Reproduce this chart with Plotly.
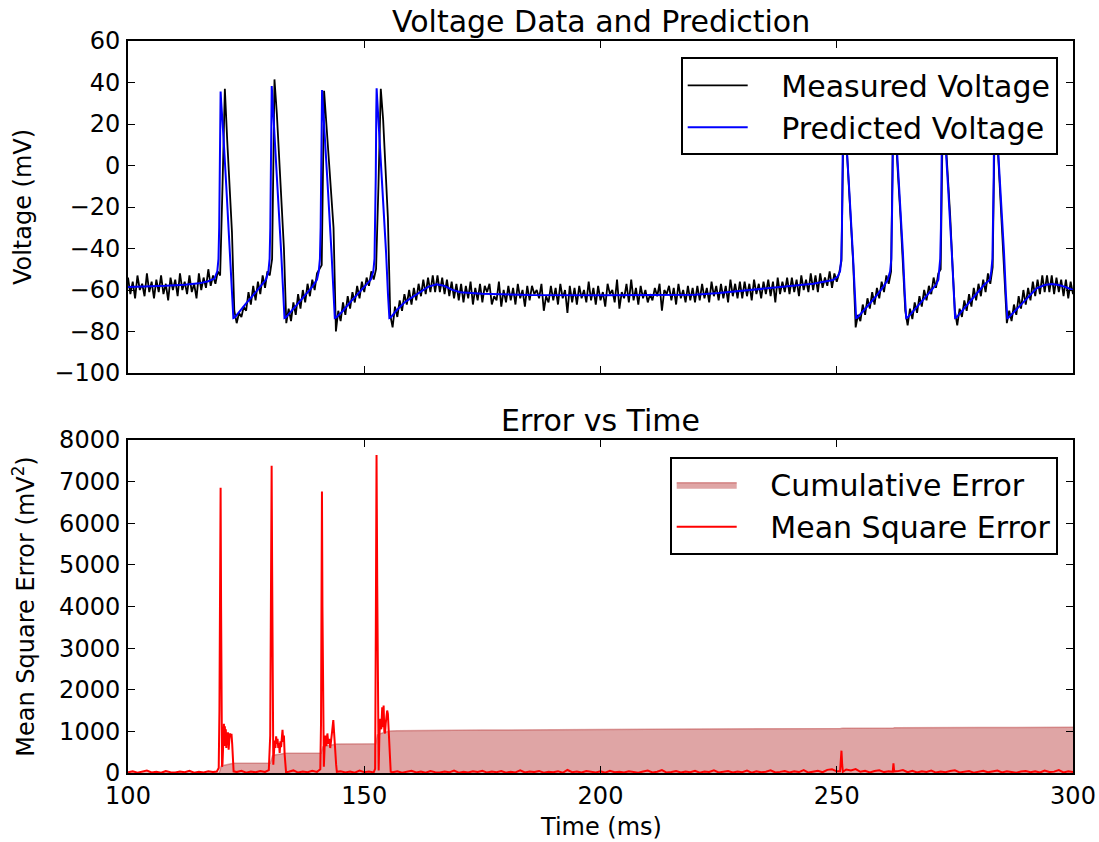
import numpy as np
import plotly.graph_objects as go

# ---------------- data ----------------
# measured voltage sampled every 0.5 ms from 100 ms to 300 ms
meas_start = 100.0
meas_step = 0.5
meas_v = [
    -54, -62, -56, -64, -53, -60, -57, -63, -52, -61,
    -56, -64, -55, -61, -53, -62, -57, -65, -54, -60,
    -55, -63, -52, -60, -56, -62, -53, -61, -57, -64,
    -52, -60, -54, -59, -50, -58, -53, -57, -51, -53,
    -10, 37, 12, -8, -32, -70, -76, -71, -73, -68,
    -70, -61, -67, -58, -65, -56, -62, -53, -59, -51,
    -53, -45, 41.5, 25, 5, -18, -40, -76, -69, -75,
    -66, -72, -62, -69, -60, -66, -57, -63, -55, -60,
    -52, -50, -48, 36, 20, 2, -15, -30, -80, -70,
    -75, -66, -72, -63, -69, -61, -66, -58, -64, -56,
    -61, -54, -58, -51, -55, -50, -10, 37, 22, -2,
    -25, -72, -78, -68, -73, -65, -70, -62, -67, -60,
    -67, -59, -65, -57, -63, -55, -62, -54, -61, -53,
    -61, -53, -61, -54, -62, -55, -63, -56, -64, -57,
    -65, -57, -66, -58, -64, -56, -67, -59, -65, -57,
    -66, -58, -61, -57, -67, -63, -65, -56, -68, -60,
    -66, -58, -65, -59, -67, -57, -64, -60, -68, -58,
    -65, -58, -62, -60, -64, -57, -70, -63, -66, -58,
    -65, -59, -67, -57, -64, -60, -71, -58, -66, -59,
    -67, -58, -64, -60, -66, -56, -65, -59, -67, -58,
    -65, -61, -68, -57, -62, -60, -66, -55, -69, -61,
    -64, -57, -66, -55, -65, -59, -67, -58, -64, -60,
    -66, -62, -65, -59, -63, -57, -70, -60, -62, -58,
    -65, -59, -67, -57, -64, -60, -66, -58, -65, -59,
    -66, -58, -65, -57, -64, -59, -66, -56, -63, -58,
    -65, -57, -64, -58, -66, -55, -63, -57, -64, -56,
    -64, -56, -63, -57, -65, -55, -62, -57, -64, -56,
    -62, -55, -63, -56, -66, -54, -62, -56, -61, -54,
    -62, -54, -61, -55, -63, -53, -60, -55, -61, -52,
    -60, -53, -61, -52, -59, -54, -58, -51, -59, -52,
    -56, -52, -46, 33, 12, -6, -25, -48, -78, -72,
    -75, -67, -72, -64, -69, -61, -67, -59, -64, -56,
    -61, -53, -57, -51, 34, 12, -6, -25, -48, -70,
    -77, -69, -74, -66, -71, -63, -68, -60, -65, -58,
    -62, -54, -59, -52, -50, 35, 14, -4, -24, -48,
    -70, -77, -69, -73, -65, -70, -62, -68, -59, -65,
    -57, -63, -55, -61, -52, -57, -49, 34, 12, -6,
    -26, -52, -76, -70, -75, -67, -72, -63, -69, -60,
    -67, -59, -65, -56, -63, -55, -62, -53, -61, -53,
    -61, -53, -62, -54, -61, -55, -63, -55, -64, -56,
    -62,
]
meas_t = meas_start + meas_step * np.arange(len(meas_v))

# predicted voltage (model output), read at key times
pred_t = [
    100, 104, 108, 112, 115, 117, 118.3,
    118.9, 119.15, 119.3, 119.42, 119.52, 119.6, 119.72, 119.9, 120.2, 120.8, 121.6, 122.0, 122.3, 122.6,
    123.5, 125.0, 126.5, 128.0, 129.2,
    129.72, 129.97, 130.12, 130.24, 130.34, 130.42, 130.54, 130.72, 131.02, 131.62, 132.42, 132.82, 133.12, 133.42,
    134.5, 136.0, 137.5, 139.0, 140.0,
    140.37, 140.62, 140.77, 140.89, 140.99, 141.07, 141.19, 141.37, 141.67, 142.27, 143.07, 143.47, 143.77, 144.07,
    145.5, 147.0, 148.5, 150.0, 151.4,
    151.92, 152.17, 152.32, 152.44, 152.54, 152.62, 152.74, 152.92, 153.22, 153.82, 154.62, 155.02, 155.32, 155.62,
    156.9, 158.5, 160.4, 162, 163.5, 165.3, 167, 168.5, 170.3, 175, 185, 200, 215, 220, 225, 231, 238, 245, 249.2, 250.2,
    250.7, 250.95, 251.1, 251.22, 251.32, 251.4, 251.52, 251.7, 252.0, 252.6, 253.4, 253.8, 254.1, 254.4,
    255.5, 257, 258.5, 260, 260.8,
    261.3, 261.55, 261.7, 261.82, 261.92, 262.0, 262.12, 262.3, 262.6, 263.2, 264.0, 264.4, 264.7, 265.0,
    266.5, 268, 269.5, 271, 271.5,
    271.65, 271.9, 272.05, 272.17, 272.27, 272.35, 272.47, 272.65, 272.95, 273.55, 274.35, 274.75, 275.05, 275.35,
    276.7, 278.2, 279.7, 281.2, 282.4,
    282.7, 282.95, 283.1, 283.22, 283.32, 283.4, 283.52, 283.7, 284.0, 284.6, 285.4, 285.8, 286.1, 286.4,
    287.5, 289.2, 290.8, 292.3, 294, 295.5, 297, 298.5, 300,
]
pred_v = [
    -58.5, -58.3, -58.0, -57.5, -56.8, -55.8, -54.5,
    -51, -45, -30, -5, 25, 35.6, 30.6, 25, 14, -10, -42, -62, -73.5, -73.2,
    -70.5, -66.5, -62.5, -58.5, -55,
    -51, -45, -30, -5, 25, 38.3, 33.3, 25, 14, -10, -42, -62, -73.5, -73.2,
    -70.5, -66.5, -62.5, -58.5, -55,
    -51, -45, -30, -5, 25, 36.4, 31.4, 25, 14, -10, -42, -62, -73.5, -73.2,
    -70, -66, -62, -58.5, -55,
    -51, -45, -30, -5, 25, 37.2, 32.2, 25, 14, -10, -42, -62, -73.5, -73.2,
    -69.6, -66, -63, -60.5, -58.5, -57.3, -58, -59.8, -61.1, -61.8, -62.4, -62.5, -62.5, -62.3, -61.5, -60.2, -58.7, -57, -55.2, -53.5,
    -51, -45, -30, -5, 25, 36, 31, 25, 14, -10, -42, -62, -73.5, -73.2,
    -70.5, -66.5, -62.5, -58, -55,
    -51, -45, -30, -5, 25, 36, 31, 25, 14, -10, -42, -62, -73.5, -73.2,
    -69.5, -65.5, -61.5, -57.5, -55,
    -51, -45, -30, -5, 25, 36, 31, 25, 14, -10, -42, -62, -73.5, -73.2,
    -69.5, -65.5, -61.5, -57.5, -55,
    -51, -45, -30, -5, 25, 36, 31, 25, 14, -10, -42, -62, -73.5, -73.2,
    -70.5, -66.4, -62.5, -59.2, -57.6, -57.1, -57.6, -58.6, -60,
]

# mean square error
mse_t = [
    100, 101, 102, 103, 104, 105, 106, 107, 108, 109, 110, 111, 112, 113, 114, 115, 116, 117, 118,
    118.8, 119.2, 119.35, 119.5, 119.6, 119.7, 119.8, 119.9, 120.0, 120.15, 120.3, 120.4, 120.5, 120.6,
    120.7, 120.8, 120.9, 121.0, 121.15, 121.3, 121.45, 121.6, 121.75, 121.9, 122.05, 122.2, 122.35,
    123, 124, 125, 126, 127, 128, 129, 129.8,
    130.1, 130.25, 130.4, 130.5, 130.6, 130.75, 130.9, 131.05, 131.2, 131.35, 131.5, 131.65, 131.8,
    131.95, 132.1, 132.25, 132.4, 132.55, 132.7, 132.85, 133.0, 133.15, 133.3, 133.45,
    134, 135, 136, 137, 138, 139, 140, 140.7,
    140.85, 140.95, 141.05, 141.15, 141.3, 141.45, 141.6, 141.8, 142.0, 142.2, 142.4, 142.6, 142.8,
    143.0, 143.2, 143.45, 143.65, 143.85, 144.05, 144.2,
    145, 146, 147, 148, 149, 150, 151, 152, 152.3,
    152.45, 152.6, 152.75, 152.9, 153.05, 153.2, 153.4, 153.6, 153.8, 153.95, 154.1, 154.25, 154.4,
    154.55, 154.7, 154.85, 155.0, 155.2, 155.4, 155.6,
    156, 157, 158, 159, 160, 161, 162, 163, 164, 165,
    166, 167, 168, 169, 170, 171, 172, 173, 174, 175,
    176, 177, 178, 179, 180, 181, 182, 183, 184, 185,
    186, 187, 188, 189, 190, 191, 192, 193, 194, 195,
    196, 197, 198, 199, 200, 201, 202, 203, 204, 205,
    206, 207, 208, 209, 210, 211, 212, 213, 214, 215,
    216, 217, 218, 219, 220, 221, 222, 223, 224, 225,
    226, 227, 228, 229, 230, 231, 232, 233, 234, 235,
    236, 237, 238, 239, 240, 241, 242, 243, 244, 245,
    246, 247, 248, 249, 250,
    250.7, 250.85, 251.0, 251.15, 251.3,
    252, 253, 254, 255, 256, 257, 258, 259, 260, 261,
    261.85, 262.0, 262.15,
    263, 264, 265, 266, 267, 268, 269, 270, 271, 272,
    273, 274, 275, 276, 277, 278, 279, 280, 281, 282,
    283, 284, 285, 286, 287, 288, 289, 290, 291, 292,
    293, 294, 295, 296, 297, 298, 299, 300,
]
mse_v = [
    15, 42, 8, 26, 58, 12, 31, 5, 47, 19, 10, 36, 17, 52, 7, 29, 13, 41, 22,
    35, 120, 1500, 5200, 6850, 4000, 900, 150, 220, 950, 1180, 650, 1120, 700,
    1050, 600, 900, 750, 980, 560, 800, 950, 880, 940, 700, 250, 40,
    22, 55, 9, 34, 16, 47, 24, 70,
    900, 4500, 7380, 5000, 1500, 200, 500, 780, 600, 880, 700, 820, 600,
    720, 480, 760, 620, 900, 1040, 750, 900, 450, 100, 20,
    31, 62, 11, 38, 19, 51, 27, 90,
    1200, 4500, 6760, 4000, 800, 150, 600, 900, 650, 950, 700, 820, 600,
    880, 1000, 1270, 800, 500, 200, 30,
    44, 13, 36, 8, 57, 21, 33, 15, 100,
    3500, 7640, 4500, 1000, 60, 900, 1300, 1050, 1580, 1100, 1620, 1000, 950,
    1200, 1350, 1500, 1420, 900, 300, 30,
    18, 40, 9, 27, 52, 14, 33, 6, 45, 21,
    11, 38, 16, 60, 8, 29, 13, 42, 24, 55,
    10, 35, 19, 48, 7, 31, 15, 66, 12, 37,
    22, 50, 9, 30, 17, 44, 6, 72, 20, 34,
    11, 47, 25, 14, 39, 8, 53, 18, 28, 12,
    43, 21, 7, 36, 58, 15, 30, 70, 10, 26,
    45, 13, 33, 19, 51, 9, 38, 23, 62, 14,
    29, 48, 11, 35, 20, 57, 8, 41, 17, 31,
    64, 12, 27, 46, 15, 39, 22, 68, 10, 34,
    52, 18, 75, 90, 40,
    40, 300, 536, 200, 30,
    85, 60, 95, 30, 55, 14, 48, 66, 22, 39,
    30, 233, 40,
    45, 70, 18, 52, 12, 41, 27, 58, 10, 35,
    20, 47, 63, 15, 32, 49, 9, 28, 54, 17,
    38, 61, 13, 44, 25, 8, 36, 50, 19, 42,
    11, 57, 23, 33, 69, 14, 40, 26,
]

# cumulative error
cum_t = [100, 119.2, 119.4, 119.55, 119.7, 119.9, 120.5, 121.3, 122.3,
         130.1, 130.3, 130.45, 130.6, 131.0, 132.0, 133.4,
         140.85, 141.0, 141.1, 141.25, 141.6, 142.8, 144.2,
         152.4, 152.55, 152.65, 152.8, 153.3, 154.3, 155.6,
         157, 175, 195, 220, 250.8, 251.3, 262.0, 262.2, 280, 300]
cum_v = [0, 0, 40, 110, 160, 175, 192, 212, 233,
         236, 300, 380, 420, 432, 450, 473,
         476, 540, 600, 630, 645, 670, 697,
         700, 780, 870, 920, 940, 980, 1012,
         1018, 1032, 1048, 1058, 1070, 1078, 1083, 1086, 1092, 1098]

x_ticks = [100, 150, 200, 250, 300]

# ---------------- figure ----------------
FONT = "DejaVu Sans"
PAD = "\u00a0\u00a0\u00a0"   # leading gap between legend key and label
fig = go.Figure()
fig.add_trace(go.Scatter(x=meas_t, y=meas_v, mode="lines", name=PAD + "Measured Voltage",
                         line=dict(color="black", width=1.8), xaxis="x", yaxis="y", legend="legend"))
fig.add_trace(go.Scatter(x=pred_t, y=pred_v, mode="lines", name=PAD + "Predicted Voltage",
                         line=dict(color="#0000ff", width=2), xaxis="x", yaxis="y", legend="legend"))
fig.add_trace(go.Scatter(x=cum_t, y=cum_v, mode="lines", name=PAD + "Cumulative Error", fill="tozeroy",
                         fillcolor="rgba(184,55,55,0.45)", line=dict(color="rgba(184,55,55,0.45)", width=1.5),
                         xaxis="x2", yaxis="y2", legend="legend2"))
fig.add_trace(go.Scatter(x=mse_t, y=mse_v, mode="lines", name=PAD + "Mean Square Error",
                         line=dict(color="#ff0000", width=2), xaxis="x2", yaxis="y2", legend="legend2"))

axis_common = dict(showline=True, linecolor="black", linewidth=2, mirror="ticks",
                   ticks="inside", ticklen=7, tickwidth=1, tickcolor="black",
                   showgrid=False, zeroline=False,
                   tickfont=dict(family=FONT, size=24, color="black"))

top_dom = [400 / 732, 1.0]
bot_dom = [0.0, 333 / 732]

legend_common = dict(xanchor="right", yanchor="top", bgcolor="white", bordercolor="black",
                     borderwidth=2, itemwidth=60,
                     font=dict(family=FONT, size=30, color="black"))

fig.update_layout(
    width=1099, height=842, autosize=False,
    margin=dict(l=128, r=26, t=41, b=69, autoexpand=False),
    paper_bgcolor="white", plot_bgcolor="white",
    font=dict(family=FONT, color="black"),
    xaxis=dict(domain=[0, 1], anchor="y", range=[100, 300], tickvals=x_ticks,
               showticklabels=False, **axis_common),
    xaxis2=dict(domain=[0, 1], anchor="y2", range=[100, 300], tickvals=x_ticks, matches="x",
                ticklabelstandoff=0, **axis_common),
    yaxis=dict(domain=top_dom, anchor="x", range=[-100, 60], dtick=20, tick0=-100,
               ticklabelstandoff=1,
               title=dict(text="Voltage (mV)", font=dict(family=FONT, size=24, color="black"), standoff=16),
               **axis_common),
    yaxis2=dict(domain=bot_dom, anchor="x2", range=[0, 8000], dtick=1000, tick0=0, tickformat="d",
                ticklabelstandoff=1,
                title=dict(text="Mean Square Error (mV<sup>2</sup>)", font=dict(family=FONT, size=24, color="black"), standoff=18),
                **axis_common),
    legend=dict(x=(1057.7 - 128) / 945, y=(773 - 57.3) / 732, **legend_common),
    legend2=dict(x=(1057.7 - 128) / 945, y=(773 - 456.7) / 732, **legend_common),
    showlegend=True,
    annotations=[
        dict(text="Voltage Data and Prediction", x=0.5, y=1.0, xref="paper", yref="paper",
             xanchor="center", yanchor="middle", yshift=20, showarrow=False,
             font=dict(family=FONT, size=30, color="black")),
        dict(text="Error vs Time", x=0.5, y=333 / 732, xref="paper", yref="paper",
             xanchor="center", yanchor="middle", yshift=20, showarrow=False,
             font=dict(family=FONT, size=30, color="black")),
        dict(text="Time (ms)", x=0.5, y=0.0, xref="paper", yref="paper",
             xanchor="center", yanchor="middle", yshift=-54, showarrow=False,
             font=dict(family=FONT, size=24, color="black")),
    ],
)

fig.write_html("out.html", config={"responsive": False})
